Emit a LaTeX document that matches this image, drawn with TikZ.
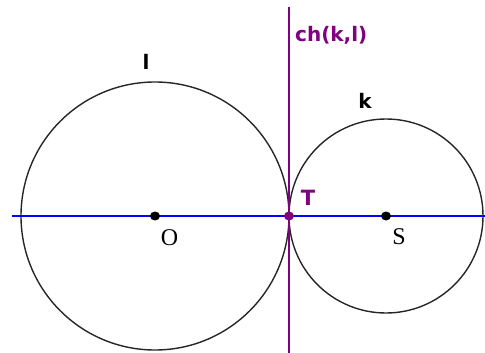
\documentclass[tikz,border=0pt]{standalone}
\usepackage{fontspec}
\setmainfont{DejaVu Sans}
\newfontfamily\ptfont{Liberation Serif}
\usepackage{tikz}
\usetikzlibrary{positioning,shapes.geometric}
\definecolor{chordc}{RGB}{128,0,128}
\definecolor{axisc}{RGB}{0,0,255}

\begin{document}
\begin{tikzpicture}[x=1pt, y=-1pt, font=\bfseries\fontsize{20}{20}\selectfont,
  circ/.style={draw=black!85, line width=1.4pt},
  pt/.style={ellipse, fill, inner sep=0pt, minimum width=10pt, minimum height=9pt},
  lbl/.style={inner sep=0pt, anchor=base},
  ptlbl/.style={lbl, font=\ptfont\fontsize{24}{24}\selectfont}]
  \useasboundingbox (0,0) rectangle (485,353);
  \coordinate (O) at (155,216);
  \coordinate (S) at (386,216);
  \coordinate (T) at (289,216);
  \coordinate (axL) at (12,216);
  \coordinate (axR) at (485,216);
  \coordinate (chTop) at (289,7);
  \coordinate (chBot) at (289,353);
  % circles l and k
  \draw[circ] (O) circle (134);
  \draw[circ] (S) circle (97);
  % center line and common tangent
  \draw[axisc, line width=2pt] (axL) -- (axR);
  \draw[chordc, line width=2pt] (chTop) -- (chBot);
  \node[pt, black] (pO) at (O) {};
  \node[pt, black] (pS) at (S) {};
  \node[pt, chordc] (pT) at (T) {};
  \node[ptlbl] (lO) at (169.5,245) {O};
  \node[ptlbl] (lS) at (399,244) {S};
  \node[lbl, chordc, font=\bfseries\fontsize{21}{21}\selectfont] (lT) at (308,205) {T};
  \node[lbl] (ll) at (146,70) {l};
  \node[lbl] (lk) at (365,109) {k};
  \node[lbl, chordc, anchor=base west] (lch) at (295,42) {ch(k,l)};
\end{tikzpicture}
\end{document}
